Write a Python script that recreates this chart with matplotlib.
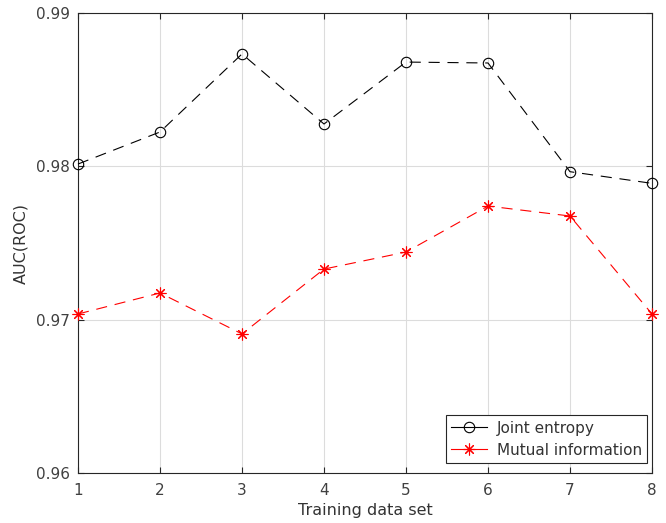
import matplotlib
matplotlib.use("Agg")
import matplotlib.pyplot as plt

x = [1, 2, 3, 4, 5, 6, 7, 8]
joint_entropy = [0.98015, 0.98224, 0.98733, 0.98276, 0.9868, 0.98674, 0.97965, 0.97889]
mutual_info = [0.97037, 0.97174, 0.96907, 0.9733, 0.97441, 0.97741, 0.97676, 0.97037]
yticks = [0.96, 0.97, 0.98, 0.99]
ytick_labels = ["0.96", "0.97", "0.98", "0.99"]

fig = plt.figure(figsize=(6.66, 5.23), dpi=100)
ax = fig.add_axes([78/666, 1-473/523, (652-78)/666, (473-13)/523])

dash = (0, (10, 7))
ax.plot(x, joint_entropy, color="black", linestyle=dash, linewidth=0.8,
        marker="o", markersize=7.5, markerfacecolor="none", markeredgecolor="black",
        markeredgewidth=0.8, label="Joint entropy", clip_on=False, zorder=3)
ax.plot(x, mutual_info, color="red", linestyle=dash, linewidth=0.8,
        marker=(8, 2, 0), markersize=8.5, markerfacecolor="none", markeredgecolor="red",
        markeredgewidth=0.8, label="Mutual information", clip_on=False, zorder=3)

ax.set_xlim(1, 8)
ax.set_ylim(0.96, 0.99)
ax.set_xticks(x)
ax.set_yticks(yticks)
ax.set_yticklabels(ytick_labels)
ax.grid(True, color="#dcdcdc", linewidth=0.8)
ax.set_axisbelow(True)
ax.tick_params(direction="in", length=4, colors="#262626", labelcolor="#404040",
               labelsize=11, top=True, right=True, width=0.8)
ax.tick_params(axis="x", pad=7)
ax.tick_params(axis="y", pad=6)
for s in ax.spines.values():
    s.set_color("#262626")
    s.set_linewidth(0.8)

ax.set_xlabel("Training data set", fontsize=11.5, color="#333333", labelpad=4)
ax.set_ylabel("AUC(ROC)", fontsize=11.5, color="#333333", labelpad=5)

leg = ax.legend(loc="lower right", bbox_to_anchor=(647/666, 1-463/523),
                bbox_transform=fig.transFigure, borderaxespad=0,
                fontsize=11, fancybox=False, framealpha=1,
                edgecolor="#262626", handlelength=2.3, handletextpad=0.65,
                borderpad=0.35, labelspacing=0.45, labelcolor="#333333")
leg.get_frame().set_linewidth(0.8)
for h in leg.get_lines():
    h.set_linestyle("-")

fig.savefig("out.png", dpi=100)
